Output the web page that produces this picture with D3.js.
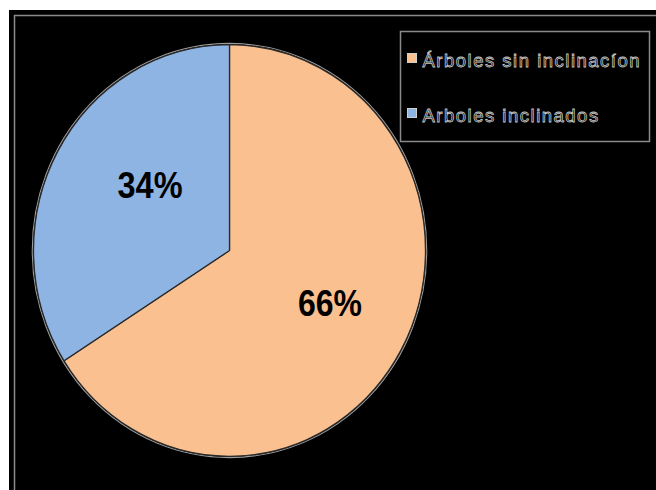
<!DOCTYPE html>
<html>
<head>
<meta charset="utf-8">
<script src="https://cdn.jsdelivr.net/npm/d3@7"></script>
<style>
  body { margin: 0; background: #fff; }
  svg { display: block; }
</style>
</head>
<body>
<div id="chart"></div>
<script>
// data
const categories = ['Árboles sin inclinacíon', 'Arboles inclinados'];
const values = [66, 34];
const labels = ['66%', '34%'];
const colors = ['#FAC090', '#8EB4E3'];

const W = 656, H = 490;

const svg = d3.select('#chart')
    .append('svg')
    .attr('width', W)
    .attr('height', H);

// black chart background
svg.append('rect')
    .attr('x', 9).attr('y', 10)
    .attr('width', W - 9).attr('height', H - 10)
    .attr('fill', '#000');

// grey plot border (top and left visible)
svg.append('path')
    .attr('d', 'M14.5,' + H + 'V15.5H' + W)
    .attr('fill', 'none')
    .attr('stroke', '#8a8a8a')
    .attr('stroke-width', 1.5);

// pie
const cx = 229.5, cy = 250.5, r = 196, sy = 1.05;
const pie = d3.pie().sort(null).value(d => d);
const arcs = pie(values);
const arc = d3.arc().innerRadius(0).outerRadius(r);

const g = svg.append('g')
    .attr('transform', 'translate(' + cx + ',' + cy + ') scale(1,' + sy + ')');

// light halo round the pie
g.append('circle')
    .attr('r', r + 1.2)
    .attr('fill', 'none')
    .attr('stroke', '#9a9a9a')
    .attr('stroke-width', 1.2)
    .attr('vector-effect', 'non-scaling-stroke');

g.selectAll('path.slice')
    .data(arcs)
    .join('path')
    .attr('class', 'slice')
    .attr('d', arc)
    .attr('fill', (d, i) => colors[i])
    .attr('stroke', '#2a2a2a')
    .attr('stroke-width', 1.3)
    .attr('vector-effect', 'non-scaling-stroke');

// percent labels (centroid at a label radius, plus a small best-fit nudge)
const labelK = 0.55;
const nudge = [[6, -1], [15, -10]];
const labelW = [64, 65];
svg.selectAll('text.pct')
    .data(arcs)
    .join('text')
    .attr('class', 'pct')
    .attr('x', (d, i) => {
        const a = (d.startAngle + d.endAngle) / 2;
        return cx + Math.sin(a) * r * labelK + nudge[i][0];
    })
    .attr('y', (d, i) => {
        const a = (d.startAngle + d.endAngle) / 2;
        return cy - Math.cos(a) * r * sy * labelK + 12 + nudge[i][1];
    })
    .attr('text-anchor', 'middle')
    .attr('textLength', (d, i) => labelW[i])
    .attr('lengthAdjust', 'spacingAndGlyphs')
    .style('font-family', 'Liberation Sans, Arial, sans-serif')
    .style('font-weight', 'bold')
    .style('font-size', '36px')
    .attr('fill', '#000')
    .text((d, i) => labels[i]);

// legend
const legend = svg.append('g')
    .attr('transform', 'translate(400.5,31.5)');

legend.append('rect')
    .attr('width', 249)
    .attr('height', 110)
    .attr('fill', '#000')
    .attr('stroke', '#8a8a8a')
    .attr('stroke-width', 1.5);

const items = legend.selectAll('g.item')
    .data(categories)
    .join('g')
    .attr('class', 'item')
    .attr('transform', (d, i) => 'translate(0,' + (i * 55) + ')');

items.append('rect')
    .attr('x', 7)
    .attr('y', 22)
    .attr('width', 9)
    .attr('height', 9)
    .attr('fill', (d, i) => colors[i])
    .attr('stroke', '#cfcfcf')
    .attr('stroke-width', 1);

items.append('text')
    .attr('x', 22)
    .attr('y', 35)
    .style('font-family', 'Liberation Sans, Arial, sans-serif')
    .style('font-size', '18.5px')
    .style('letter-spacing', '1.5px')
    .attr('fill', '#000')
    .attr('stroke', '#c4c4c4')
    .attr('stroke-width', 0.8)
    .text(d => d);
</script>
</body>
</html>
